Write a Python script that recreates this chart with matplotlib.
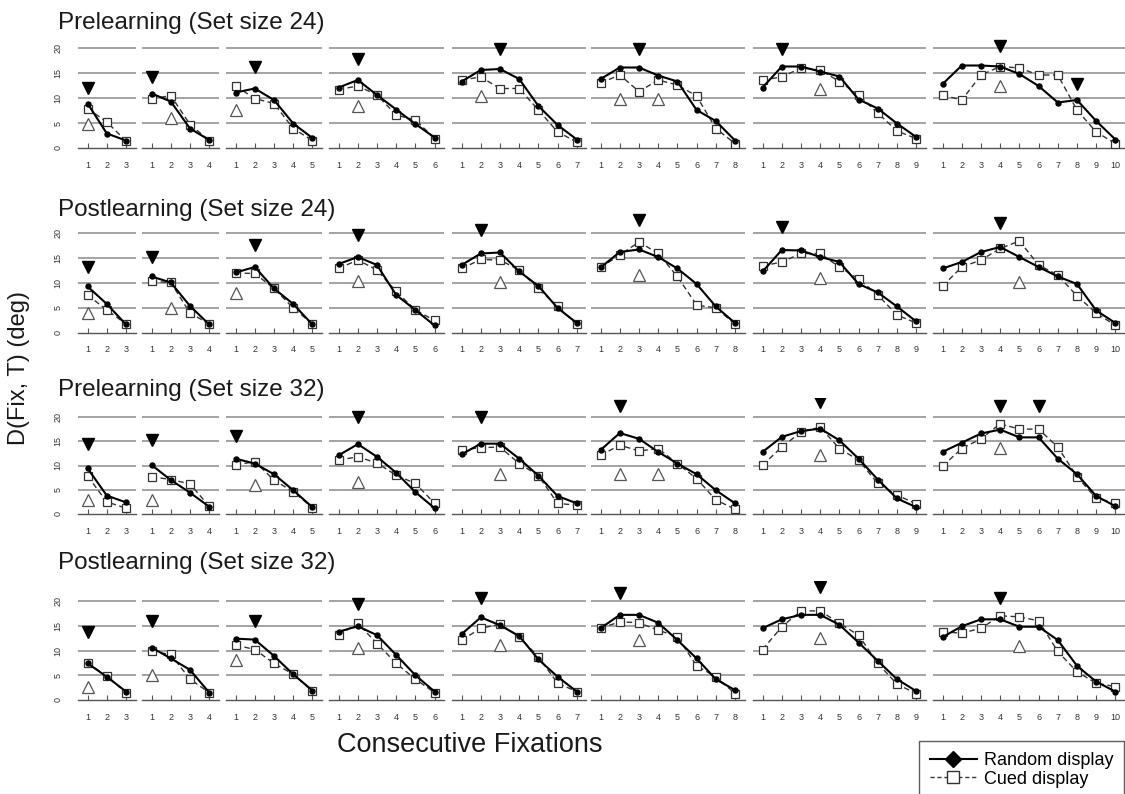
import matplotlib
matplotlib.use("Agg")
import matplotlib.pyplot as plt
from matplotlib.lines import Line2D

plt.rcParams['font.family'] = ['Liberation Sans', 'DejaVu Sans']

# ---------------- data ----------------
row_titles = ["Prelearning (Set size 24)", "Postlearning (Set size 24)",
              "Prelearning (Set size 32)", "Postlearning (Set size 32)"]
n_fixations = [3, 4, 5, 6, 7, 8, 9, 10]
y_ticks = [0, 5, 10, 15, 20]

pre24_random = [[8.9, 2.9, 1.5], [10.9, 9.3, 3.9, 1.6], [11.1, 11.9, 9.6, 4.9, 2.0],
                [12.1, 13.6, 10.6, 7.7, 4.8, 2.1], [13.3, 15.6, 15.8, 13.8, 8.4, 4.6, 1.7],
                [13.8, 16.1, 16.1, 14.5, 13.3, 7.6, 5.4, 1.5],
                [12.1, 16.3, 16.3, 15.3, 14.3, 9.7, 7.9, 4.9, 2.2],
                [12.8, 16.5, 16.5, 16.3, 14.8, 12.4, 9.1, 9.6, 5.4, 1.7]]
pre24_cued = [[7.9, 5.2, 1.4], [9.8, 10.5, 4.7, 1.5], [12.4, 9.9, 8.9, 3.9, 1.5],
              [11.7, 12.4, 10.6, 6.6, 5.6, 1.9], [13.6, 14.2, 11.9, 11.9, 7.6, 3.2, 1.2],
              [13.0, 14.6, 11.3, 13.6, 12.6, 10.4, 3.9, 0.9],
              [13.6, 14.2, 16.0, 15.6, 13.3, 10.6, 7.0, 3.4, 1.9],
              [10.6, 9.6, 14.6, 16.3, 16.0, 14.6, 14.6, 7.6, 3.2, 0.9]]
pre24_filled = [[(1, 12.1)], [(1, 14.2)], [(2, 16.3)], [(2, 17.8)], [(3, 19.8)],
                [(3, 19.8)], [(2, 19.8)], [(4, 20.5), (8, 12.8)]]
pre24_open = [[(1, 4.9)], [(2, 6.1)], [(1, 7.6)], [(2, 8.4)], [(2, 10.4)],
              [(2, 9.9), (4, 9.9)], [(4, 11.9)], [(4, 12.4)]]

post24_random = [[9.3, 5.8, 1.7], [11.3, 10.1, 5.4, 1.7], [12.1, 13.2, 8.9, 5.8, 1.7],
                 [13.8, 15.2, 13.6, 7.6, 4.6, 1.5], [13.6, 15.9, 16.1, 12.3, 9.4, 5.0, 2.0],
                 [13.1, 16.2, 16.7, 15.2, 12.9, 9.8, 5.3, 2.0],
                 [12.3, 16.6, 16.5, 15.2, 14.2, 9.8, 8.1, 5.3, 2.3],
                 [12.9, 14.2, 16.2, 17.2, 15.2, 13.2, 11.3, 9.8, 4.5, 2.0]]
post24_cued = [[7.6, 4.6, 1.8], [10.3, 10.1, 4.0, 1.8], [12.0, 11.9, 8.9, 5.0, 1.8],
               [12.9, 14.6, 12.6, 8.3, 4.6, 2.5], [12.9, 14.7, 14.6, 12.6, 8.9, 5.3, 1.7],
               [13.1, 15.6, 18.2, 15.9, 11.3, 5.6, 5.0, 1.8],
               [13.4, 14.2, 15.9, 15.9, 13.2, 10.8, 7.6, 3.6, 2.0],
               [9.4, 13.2, 14.6, 16.9, 18.4, 13.6, 11.6, 7.4, 4.0, 1.5]]
post24_filled = [[(1, 13.2)], [(1, 15.2)], [(2, 17.5)], [(2, 19.5)], [(2, 20.5)],
                 [(3, 22.6)], [(2, 21.2)], [(4, 22.0)]]
post24_open = [[(1, 4.0)], [(2, 5.0)], [(1, 7.9)], [(2, 10.3)], [(3, 10.1)],
               [(3, 11.6)], [(4, 10.9)], [(5, 10.1)]]

pre32_random = [[9.4, 3.8, 2.4], [10.1, 7.0, 4.4, 1.5], [11.4, 10.4, 8.2, 4.9, 1.4],
                [12.1, 14.4, 11.8, 8.5, 4.5, 1.2], [12.3, 14.5, 14.5, 11.4, 7.9, 3.7, 2.2],
                [13.2, 16.7, 15.5, 12.8, 10.4, 8.2, 4.9, 2.2],
                [12.8, 15.9, 17.1, 17.6, 15.2, 11.4, 7.1, 3.2, 1.4],
                [12.8, 14.7, 16.6, 17.4, 15.8, 15.8, 11.4, 8.2, 3.7, 1.6]]
pre32_cued = [[7.8, 2.5, 1.2], [7.7, 7.1, 6.2, 1.6], [10.1, 10.8, 7.0, 4.6, 1.3],
              [11.1, 11.8, 10.5, 8.0, 6.3, 2.2], [13.2, 13.7, 13.8, 10.4, 7.9, 2.2, 1.8],
              [12.1, 14.2, 13.0, 13.5, 10.4, 7.3, 2.9, 1.0],
              [10.1, 13.8, 16.9, 17.9, 13.5, 11.1, 6.3, 3.9, 2.1],
              [9.9, 13.5, 15.5, 18.6, 17.5, 17.5, 13.8, 7.7, 3.2, 2.3]]
pre32_filled = [[(1, 14.5)], [(1, 15.2)], [(1, 16.0)], [(2, 19.9)], [(2, 19.9)],
                [(2, 22.2)], [(4, 23.0)], [(4, 22.2), (6, 22.2)]]
pre32_open = [[(1, 2.9)], [(1, 2.9)], [(2, 6.0)], [(2, 6.6)], [(3, 8.2)],
              [(2, 8.2), (4, 8.2)], [(4, 12.1)], [(4, 13.7)]]

post32_random = [[7.4, 4.7, 1.7], [10.6, 8.4, 6.1, 1.5], [12.4, 12.2, 8.9, 5.2, 1.9],
                 [13.8, 14.9, 13.1, 9.1, 5.0, 1.7], [13.3, 16.7, 15.1, 12.9, 8.2, 4.7, 1.7],
                 [14.5, 17.2, 17.2, 15.6, 12.1, 8.4, 4.2, 2.0],
                 [14.5, 16.3, 17.2, 17.2, 15.2, 11.6, 7.9, 4.2, 1.8],
                 [12.7, 14.9, 16.3, 16.3, 14.8, 14.8, 12.1, 6.9, 3.7, 1.7]]
post32_cued = [[7.5, 4.8, 1.5], [9.8, 9.2, 4.2, 1.5], [11.1, 10.2, 7.4, 5.2, 1.9],
               [13.1, 15.5, 11.4, 7.4, 4.2, 1.5], [12.1, 14.5, 15.3, 12.8, 8.7, 3.4, 1.7],
               [14.5, 15.8, 15.6, 14.1, 12.8, 6.9, 4.7, 1.3],
               [10.2, 14.8, 18.0, 18.0, 15.5, 13.1, 7.4, 3.2, 1.3],
               [13.8, 13.5, 14.5, 17.0, 16.8, 16.0, 9.8, 5.7, 3.4, 2.7]]
post32_filled = [[(1, 13.8)], [(1, 16.0)], [(2, 16.0)], [(2, 19.4)], [(2, 20.7)],
                 [(2, 21.7)], [(4, 22.9)], [(4, 20.7)]]
post32_open = [[(1, 2.7)], [(1, 5.0)], [(1, 8.1)], [(2, 10.6)], [(3, 11.1)],
               [(3, 12.2)], [(4, 12.6)], [(5, 10.9)]]

rows = [(pre24_random, pre24_cued, pre24_filled, pre24_open),
        (post24_random, post24_cued, post24_filled, post24_open),
        (pre32_random, pre32_cued, pre32_filled, pre32_open),
        (post32_random, post32_cued, post32_filled, post32_open)]

# ---------------- layout (pixels) ----------------
W, H = 1125, 794
fig = plt.figure(figsize=(W / 100, H / 100), dpi=100)

panel_left = [78, 142, 226, 329, 452, 591, 753, 933]
unit_px = 19.2
row_bottom = [148, 333, 514, 700]
row_ppu = [5.0, 5.0, 4.85, 4.95]
title_base = [29, 216, 396, 569]
YMAX = 24

for r, (rand, cued, filled, opn) in enumerate(rows):
    fig.text(58 / W, 1 - title_base[r] / H, row_titles[r], fontsize=17.5,
             color='#1a1a1a', va='baseline', ha='left')
    for p, n in enumerate(n_fixations):
        l = panel_left[p]
        w = n * unit_px
        h = YMAX * row_ppu[r]
        ax = fig.add_axes([l / W, 1 - row_bottom[r] / H, w / W, h / H])
        ax.set_xlim(0.5, n + 0.5)
        ax.set_ylim(0, YMAX)
        for s in ['top', 'right', 'left']:
            ax.spines[s].set_visible(False)
        ax.spines['bottom'].set_color('#555555')
        ax.spines['bottom'].set_linewidth(1.0)
        for g in [5, 10, 15, 20]:
            ax.axhline(g, color='#8a8a8a', lw=1.1, zorder=1)
        xs = list(range(1, n + 1))
        ax.plot(xs, cued[p], ls=(0, (4, 2.5)), color='#333333', lw=1.0,
                marker='s', ms=6, mfc='white', mec='#333333', mew=0.9, zorder=3)
        ax.plot(xs, rand[p], ls='-', color='black', lw=1.5,
                marker='o', ms=3.6, mfc='black', mec='black', zorder=4)
        for (fx, fy) in filled[p]:
            ax.plot([fx], [fy], marker='v', ms=8.5, color='black', ls='none', zorder=5)
        for (ox, oy) in opn[p]:
            ax.plot([ox], [oy], marker='^', ms=8.5, mfc='white', mec='#555555',
                    mew=0.9, ls='none', zorder=5)
        ax.set_xticks(xs)
        ax.set_xticklabels([str(v) for v in xs], fontsize=6.5, color='#333333')
        ax.tick_params(axis='x', direction='in', length=3.5, width=0.8,
                       color='#555555', pad=9)
        if p == 0:
            ax.set_yticks(y_ticks)
            ax.set_yticklabels([str(v) for v in y_ticks], fontsize=6.5,
                               rotation=90, va='center', color='#333333')
            ax.tick_params(axis='y', length=0, pad=11)
        else:
            ax.set_yticks([])
        ax.patch.set_alpha(0)

fig.text(19 / W, 1 - 368 / H, "D(Fix, T) (deg)", rotation=90, fontsize=17,
         va='center', ha='center', color='#1a1a1a')
fig.text(470 / W, 1 - 745 / H, "Consecutive Fixations", fontsize=19.5,
         va='center', ha='center', color='#1a1a1a')

handles = [Line2D([], [], color='black', lw=1.5, marker='D', ms=8, mfc='black'),
           Line2D([], [], color='#333333', lw=1.0, ls=(0, (3, 2)), marker='s', ms=8,
                  mfc='white', mec='#333333')]
leg = fig.legend(handles, ["Random display", "Cued display"], loc='upper left',
                 bbox_to_anchor=(910 / W, 1 - 732 / H), fontsize=13, frameon=True,
                 fancybox=False, edgecolor='#333333', handlelength=2.6,
                 borderpad=0.6, labelspacing=0.1, handletextpad=0.4)
leg.get_frame().set_linewidth(1.0)

fig.savefig("out.png", dpi=100)
